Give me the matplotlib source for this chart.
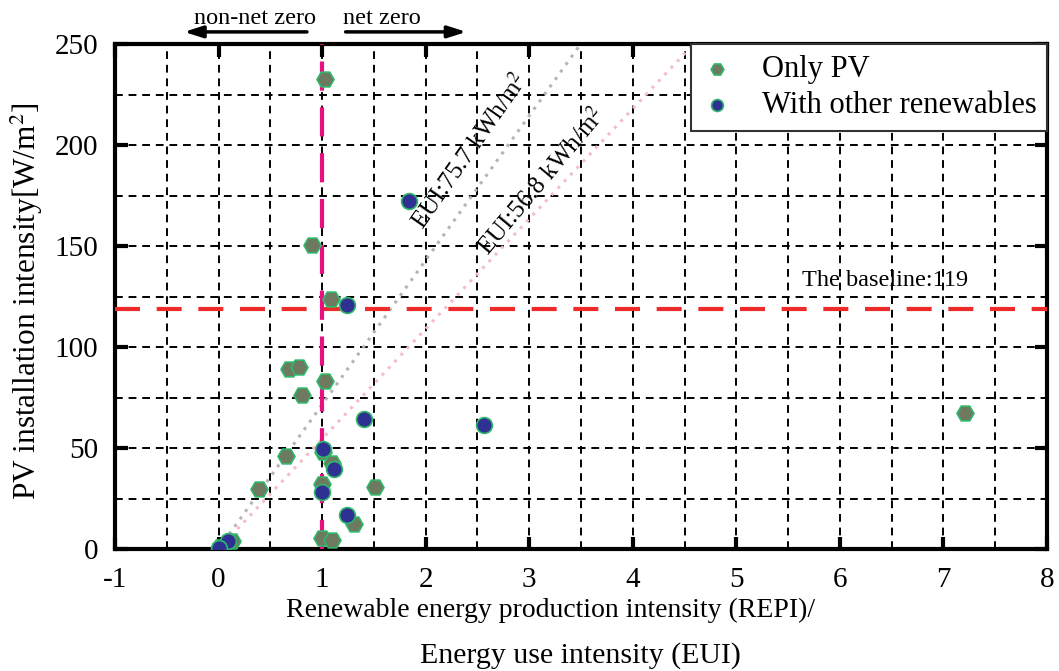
import matplotlib
matplotlib.use("Agg")
import matplotlib.pyplot as plt
import numpy as np
from matplotlib.ticker import MultipleLocator

plt.rcParams['font.family'] = ['Liberation Serif', 'DejaVu Serif']
plt.rcParams['mathtext.fontset'] = 'stix'
plt.rcParams['axes.unicode_minus'] = False

# Only PV (REPI/EUI, PV installation intensity)
pv_x = [1.03, 0.90, 1.09, 0.68, 0.78, 1.03, 0.81, 0.65, 1.01, 1.10, 0.39, 1.00, 1.51, 1.31, 1.00, 1.10, 0.13, 0.01, 7.21]
pv_y = [232.5, 150.5, 124, 89, 90, 83, 76, 46, 48, 42.5, 29.7, 32, 30.5, 12.4, 5.6, 4.5, 3.8, 0.8, 67.5]

# With other renewables
ot_x = [1.84, 1.24, 1.40, 2.56, 1.01, 1.11, 1.00, 1.24, 0.09, 0.00]
ot_y = [172.3, 121, 64.4, 61.2, 49.3, 39.6, 28.0, 16.8, 4.2, 0.4]

baseline = 119
slope_high = 71.5   # EUI 75.7 kWh/m2 reference line
slope_low = 54.5    # EUI 56.8 kWh/m2 reference line

fig = plt.figure(figsize=(10.59, 6.71), dpi=100)
ax = fig.add_axes([0.1086, 0.1818, 0.8801, 0.7526])
ax.set_xlim(-1, 8)
ax.set_ylim(0, 250)

ax.xaxis.set_major_locator(MultipleLocator(1))
ax.xaxis.set_minor_locator(MultipleLocator(0.5))
ax.yaxis.set_major_locator(MultipleLocator(50))
ax.yaxis.set_minor_locator(MultipleLocator(25))
ax.grid(True, which='both', color='black', linestyle=(0, (4, 3)), linewidth=1.4)
ax.set_axisbelow(True)
ax.tick_params(which='major', direction='in', length=9, width=3, top=True, right=True,
               labelsize=21)
ax.tick_params(axis='x', pad=13)
ax.tick_params(axis='y', pad=12)
ax.tick_params(which='minor', length=0)
for s in ax.spines.values():
    s.set_linewidth(3)

# EUI reference lines
xl = np.array([0, 3.48])
ax.plot(xl, slope_high * xl, color='#b5b5b5', linestyle=(0, (1, 2)), linewidth=2.2, zorder=2)
xl2 = np.array([0, 4.6])
ax.plot(xl2, slope_low * xl2, color='#f6bccb', linestyle=(0, (1, 2)), linewidth=2.2, zorder=2)

ax.text(2.43, 197, 'EUI:75.7 kWh/m$^2$', rotation=55, ha='center', va='center', fontsize=18, zorder=3)
ax.text(3.12, 182, 'EUI:56.8 kWh/m$^2$', rotation=50, ha='center', va='center', fontsize=18, zorder=3)

# Baseline and net zero line
ax.axhline(baseline, color='#ee2a2a', linewidth=3, linestyle=(0, (6, 4)), zorder=3)
ax.text(6.44, 133, 'The baseline:119', ha='center', va='center', fontsize=17.5)
ax.axvline(1, color='#e6117f', linewidth=3, linestyle=(0, (7, 4)), zorder=3)

ax.scatter(pv_x, pv_y, marker='H', s=150, facecolor='#6e7a60', edgecolor='#2fb86a',
           linewidth=1.2, zorder=4, label='Only PV')
ax.scatter(ot_x, ot_y, marker='o', s=130, facecolor='#2e3192', edgecolor='#2fb86a',
           linewidth=1.2, zorder=5, label='With other renewables')

leg = ax.legend(loc='upper right', borderaxespad=0, fontsize=22, frameon=True, fancybox=False,
                handletextpad=0.95, borderpad=0.35, labelspacing=0.25, markerscale=0.75,
                handlelength=1.0)
leg.get_frame().set_edgecolor('#333333')
leg.get_frame().set_linewidth(1.5)
leg.get_frame().set_alpha(1)

# top arrows
ax.annotate('', xy=(-0.36, 256), xytext=(0.88, 256), xycoords='data', annotation_clip=False,
            arrowprops=dict(arrowstyle='-|>,head_length=1.1,head_width=0.35', color='black', lw=2.5))
ax.annotate('', xy=(2.42, 256), xytext=(1.20, 256), xycoords='data', annotation_clip=False,
            arrowprops=dict(arrowstyle='-|>,head_length=1.1,head_width=0.35', color='black', lw=2.5))
ax.text(0.35, 257.5, 'non-net zero', ha='center', va='bottom', fontsize=17.5, clip_on=False)
ax.text(1.58, 257.5, 'net zero', ha='center', va='bottom', fontsize=17.5, clip_on=False)

ax.set_ylabel('PV installation intensity[W/m$^2$]', fontsize=22.5)
ax.yaxis.set_label_coords(-0.075, 0.49)

# x axis label (two lines)
W, H = 1059.0, 671.0
fig.text(551 / W, 1 - 617 / H, 'Renewable energy production intensity (REPI)/',
         ha='center', va='baseline', fontsize=20)
fig.text(580 / W, 1 - 663 / H, 'Energy use intensity (EUI)',
         ha='center', va='baseline', fontsize=21.5)

fig.savefig('out.png', dpi=100)
